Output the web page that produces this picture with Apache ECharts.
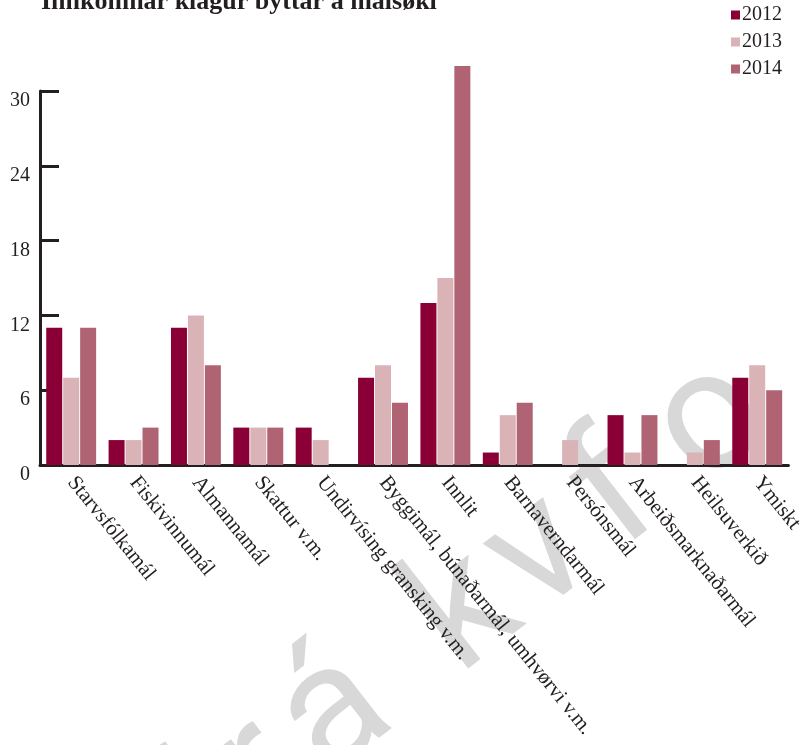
<!DOCTYPE html>
<html>
<head>
<meta charset="utf-8">
<script src="https://cdn.jsdelivr.net/npm/echarts@6/dist/echarts.min.js"></script>
<style>
  html, body { margin: 0; padding: 0; background: #fff; }
  #chart { width: 806px; height: 745px; }
</style>
</head>
<body>
<div id="chart"></div>
<script>
// málsøki
var categories = ['Starvsfólkamál', 'Fiskivinnumál', 'Almannamál', 'Skattur v.m.',
  'Undirvísing gransking v.m.', 'Byggimál, búnaðarmál, umhvørvi v.m.', 'Innlit',
  'Barnaverndarmál', 'Persónsmál', 'Arbeiðsmarknaðarmál', 'Heilsuverkið', 'Ymiskt'];
var years = ['2012', '2013', '2014'];
var data2012 = [11, 2, 11, 3, 3, 7, 13, 1, 0, 4, 0, 7];
var data2013 = [7, 2, 12, 3, 2, 8, 15, 4, 2, 1, 1, 8];
var data2014 = [11, 3, 8, 3, 0, 5, 32, 5, 0, 4, 2, 6];
var yTicks = [0, 6, 12, 18, 24, 30];

var colors = ['#8a0036', '#dab3b7', '#b06373'];
var serif = '"Liberation Serif", "DejaVu Serif", serif';
var ink = '#231f20';

var chart = echarts.init(document.getElementById('chart'), null, {renderer: 'canvas'});

function bar(name, d, i) {
  return {
    name: name,
    type: 'bar',
    data: d,
    barWidth: 16,
    barGap: '6%',
    clip: false,
    itemStyle: {color: colors[i]}
  };
}

// vatnmerki, bókstavur fyri bókstav
var wm = [['f', -345], ['r', -260], ['á', -165], ['k', 0], ['v', 95], ['f', 190], ['o', 312]];

var option = {
  animation: false,
  backgroundColor: '#fff',
  title: {
    text: 'Innkomnar klagur býttar á málsøki',
    left: 36,
    top: -16,
    textStyle: {
      fontFamily: serif,
      fontWeight: 'bold',
      fontSize: 26,
      color: ink
    }
  },
  legend: {
    data: years,
    orient: 'vertical',
    left: 726,
    top: 0,
    itemWidth: 9,
    itemHeight: 9,
    itemGap: 7,
    itemStyle: {borderWidth: 0},
    icon: 'rect',
    textStyle: {
      fontFamily: serif,
      fontSize: 20,
      lineHeight: 18,
      color: ink,
      padding: [0, 0, 0, -3]
    }
  },
  grid: {
    left: 40,
    right: 13,
    top: 91,
    bottom: 280,
    containLabel: false
  },
  xAxis: {
    type: 'category',
    data: categories,
    axisLine: {lineStyle: {color: ink, width: 3}},
    axisTick: {
      inside: true,
      length: 7,
      lineStyle: {color: ink, width: 3}
    },
    axisLabel: {
      interval: 0,
      rotate: -51,
      margin: 14,
      fontFamily: serif,
      fontSize: 21,
      color: ink
    }
  },
  yAxis: {
    type: 'value',
    min: yTicks[0],
    max: yTicks[yTicks.length - 1],
    interval: 6,
    splitLine: {show: false},
    axisLine: {show: true, lineStyle: {color: ink, width: 3}},
    axisTick: {
      show: true,
      inside: true,
      length: 19,
      lineStyle: {color: ink, width: 3}
    },
    axisLabel: {
      margin: 10,
      verticalAlign: 'top',
      fontFamily: serif,
      fontSize: 20,
      color: ink
    }
  },
  series: [
    bar(years[0], data2012, 0),
    bar(years[1], data2013, 1),
    bar(years[2], data2014, 2)
  ],
  graphic: [{
    type: 'group',
    x: 519,
    y: 683,
    rotation: 0.66,
    z: 100,
    silent: true,
    children: wm.map(function (w) {
      return {
        type: 'text',
        x: w[1],
        y: 0,
        style: {
          text: w[0],
          fontFamily: 'Roboto, "Liberation Sans", sans-serif',
          fontSize: 170,
          fill: 'rgba(110,110,110,0.27)',
          textAlign: 'center',
          textVerticalAlign: 'bottom'
        }
      };
    })
  }]
};

chart.setOption(option);
</script>
</body>
</html>
